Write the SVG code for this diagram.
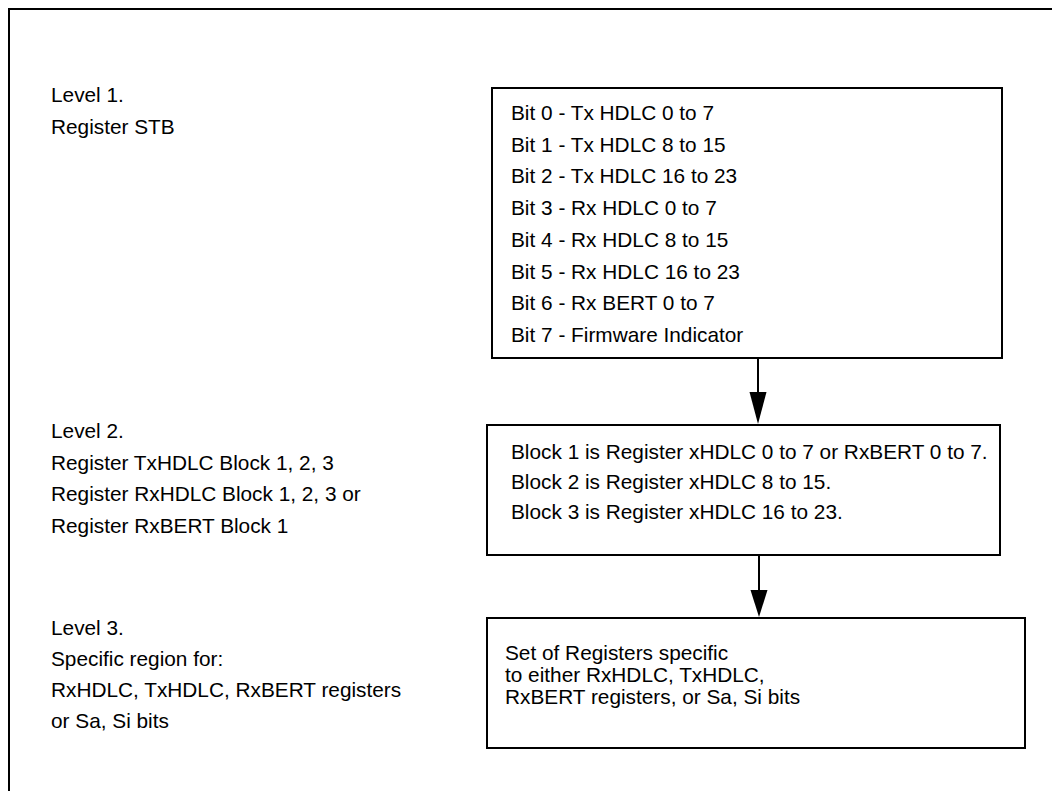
<svg xmlns="http://www.w3.org/2000/svg" width="1052" height="791" viewBox="0 0 1052 791">
<style>
text{font-family:"Liberation Sans",Arial,sans-serif;font-size:20.8px;fill:#000}
.box{fill:#fff;stroke:#000;stroke-width:2}
.frame{fill:none;stroke:#000;stroke-width:2}
.conn{stroke:#000;stroke-width:2;fill:none}
.head{fill:#000;stroke:none}
</style>
<rect width="1052" height="791" fill="#fff"/>
<path class="frame" d="M9,800 V9 H1060"/>
<g id="label-level1">
<text x="51" y="102">Level 1.</text>
<text x="51" y="134">Register STB</text>
</g>
<g id="label-level2">
<text x="51" y="438">Level 2.</text>
<text x="51" y="469.5">Register TxHDLC Block 1, 2, 3</text>
<text x="51" y="501">Register RxHDLC Block 1, 2, 3 or</text>
<text x="51" y="532.5">Register RxBERT Block 1</text>
</g>
<g id="label-level3">
<text x="51" y="635">Level 3.</text>
<text x="51" y="666">Specific region for:</text>
<text x="51" y="697">RxHDLC, TxHDLC, RxBERT registers</text>
<text x="51" y="728">or Sa, Si bits</text>
</g>
<g id="node-stb">
<rect class="box" x="492" y="88" width="510" height="270"/>
<text x="511" y="120">Bit 0 - Tx HDLC 0 to 7</text>
<text x="511" y="151.7">Bit 1 - Tx HDLC 8 to 15</text>
<text x="511" y="183.4">Bit 2 - Tx HDLC 16 to 23</text>
<text x="511" y="215.1">Bit 3 - Rx HDLC 0 to 7</text>
<text x="511" y="246.8">Bit 4 - Rx HDLC 8 to 15</text>
<text x="511" y="278.5">Bit 5 - Rx HDLC 16 to 23</text>
<text x="511" y="310.2">Bit 6 - Rx BERT 0 to 7</text>
<text x="511" y="341.9">Bit 7 - Firmware Indicator</text>
</g>
<g id="node-blocks">
<rect class="box" x="487" y="425" width="513" height="130"/>
<text x="511" y="459">Block 1 is Register xHDLC 0 to 7 or RxBERT 0 to 7.</text>
<text x="511" y="489">Block 2 is Register xHDLC 8 to 15.</text>
<text x="511" y="519">Block 3 is Register xHDLC 16 to 23.</text>
</g>
<g id="node-registers">
<rect class="box" x="487" y="618" width="538" height="130"/>
<text x="505" y="660">Set of Registers specific</text>
<text x="505" y="682">to either RxHDLC, TxHDLC,</text>
<text x="505" y="704">RxBERT registers, or Sa, Si bits</text>
</g>
<g id="connectors">
<line class="conn" x1="758" y1="358" x2="758" y2="393"/>
<polygon class="head" points="749.5,392 766.5,392 758,424"/>
<line class="conn" x1="759" y1="555" x2="759" y2="591"/>
<polygon class="head" points="750.5,590 767.5,590 759,617"/>
</g>
</svg>
